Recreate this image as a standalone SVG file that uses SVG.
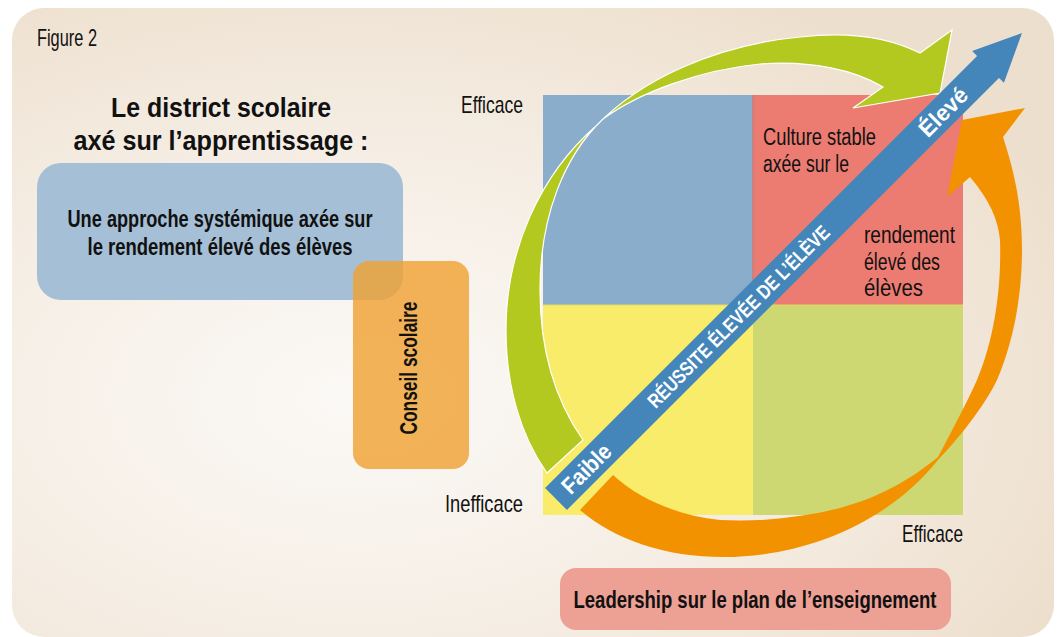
<svg xmlns="http://www.w3.org/2000/svg" width="1058" height="637" viewBox="0 0 1058 637">
  <defs>
    <radialGradient id="bgGrad" cx="0.33" cy="0.62" r="0.75">
      <stop offset="0" stop-color="#fbf9f6"/>
      <stop offset="0.55" stop-color="#f5ede3"/>
      <stop offset="1" stop-color="#eddfcd"/>
    </radialGradient>
    <style>
      .t { font-family: "Liberation Sans Narrow", "Liberation Sans", Arial, sans-serif; fill: #111; }
      .b { font-weight: bold; }
      .w { fill: #ffffff; font-weight: bold; }
    </style>
  </defs>

  <!-- panel -->
  <rect x="0" y="0" width="1058" height="637" fill="#ffffff"/>
  <rect x="12" y="8" width="1042" height="629" rx="32" fill="url(#bgGrad)"/>
  <text class="t" x="37" y="46" font-size="24" textLength="60" lengthAdjust="spacingAndGlyphs" fill="#2a2a2a">Figure 2</text>

  <!-- heading -->
  <g id="heading">
    <text class="t b" x="221" y="117" font-size="27" text-anchor="middle" textLength="220" lengthAdjust="spacingAndGlyphs">Le district scolaire</text>
    <text class="t b" x="221" y="150" font-size="27" text-anchor="middle" textLength="295" lengthAdjust="spacingAndGlyphs">axé sur l’apprentissage :</text>
  </g>

  <!-- left boxes -->
  <g id="approche">
    <rect x="37" y="163" width="366" height="137" rx="24" fill="#a5c0d6"/>
    <text class="t b" x="220" y="227" font-size="24" text-anchor="middle" textLength="305" lengthAdjust="spacingAndGlyphs">Une approche systémique axée sur</text>
    <text class="t b" x="220" y="255" font-size="24" text-anchor="middle" textLength="265" lengthAdjust="spacingAndGlyphs">le rendement élevé des élèves</text>
  </g>
  <g id="conseil">
    <rect x="353" y="261" width="116" height="208" rx="16" fill="#f0a030" fill-opacity="0.8"/>
    <text class="t b" transform="translate(417,368) rotate(-90)" x="0" y="0" font-size="23" text-anchor="middle" textLength="133" lengthAdjust="spacingAndGlyphs">Conseil scolaire</text>
  </g>

  <!-- quadrant grid -->
  <g id="grille">
    <rect x="543" y="95" width="210" height="210" fill="#89adcb"/>
    <rect x="753" y="95" width="210" height="210" fill="#ec7c72"/>
    <rect x="543" y="305" width="210" height="210" fill="#f9ec6b"/>
    <rect x="753" y="305" width="210" height="210" fill="#cdd872"/>
    <line x1="753" y1="95" x2="753" y2="305" stroke="#d96a64" stroke-width="1"/>
    <line x1="543" y1="305" x2="963" y2="305" stroke="#e6dc5a" stroke-width="1"/>
  </g>

  <!-- axis labels -->
  <g id="axes">
    <text class="t" x="523" y="113" font-size="24" text-anchor="end" textLength="62" lengthAdjust="spacingAndGlyphs">Efficace</text>
    <text class="t" x="523" y="512" font-size="24" text-anchor="end" textLength="78" lengthAdjust="spacingAndGlyphs">Inefficace</text>
    <text class="t" x="963" y="542" font-size="24" text-anchor="end" textLength="61" lengthAdjust="spacingAndGlyphs">Efficace</text>
  </g>

  <!-- quadrant text -->
  <g id="culture">
    <text class="t" x="763" y="145" font-size="23" textLength="113" lengthAdjust="spacingAndGlyphs">Culture stable</text>
    <text class="t" x="763" y="172" font-size="23" textLength="86" lengthAdjust="spacingAndGlyphs">axée sur le</text>
    <text class="t" x="864" y="243" font-size="23" textLength="91" lengthAdjust="spacingAndGlyphs">rendement</text>
    <text class="t" x="864" y="270" font-size="23" textLength="76" lengthAdjust="spacingAndGlyphs">élevé des</text>
    <text class="t" x="864" y="296" font-size="23" textLength="59" lengthAdjust="spacingAndGlyphs">élèves</text>
  </g>

  <!-- connectors: the two cycle arrows and the achievement axis -->
  <g id="connecteurs">
    <path id="fleche-verte" fill="#b3c920" stroke="#ffffff" stroke-width="1.2" stroke-linejoin="miter"
      d="M547,473 C520,435 506,385 506,330 C506,250 540,175 596,126 C640,80 715,45 800,37 C850,31 890,38 920,53 L952,30 L940,93 L853,108 L883,87 C855,70 810,60 760,64 C700,70 640,92 603,119 C565,155 540,215 540,290 C540,350 555,400 583,440 Z"/>
    <path id="fleche-orange" fill="#f29200"
      d="M580,510 C615,540 665,557 724,557 C800,557 885,526 938,460 C960,437 985,405 997,380 C1012,345 1022,300 1022,250 C1022,200 1012,165 1003,137 L1025,108 L962,120 L947,197 L970,177 C985,195 998,215 1000,240 C1002,300 990,350 977,380 C968,400 955,425 938,457 C910,480 880,497 840,508 C800,518 760,522 720,520 C680,516 640,500 613,475 Z"/>
    <g id="axe-reussite" transform="translate(556,499) rotate(-45)">
      <polygon points="0,-15.5 611,-15.5 611,-22.5 659,0 611,22.5 611,15.5 0,15.5" fill="#4586ba"/>
      <text class="t w" x="13" y="8" font-size="23" textLength="60" lengthAdjust="spacingAndGlyphs">Faible</text>
      <text class="t w" x="258" y="7" font-size="20" text-anchor="middle" textLength="248" lengthAdjust="spacingAndGlyphs">RÉUSSITE ÉLEVÉE DE L’ÉLÈVE</text>
      <text class="t w" x="518" y="8" font-size="23" textLength="59" lengthAdjust="spacingAndGlyphs">Élevé</text>
    </g>
  </g>

  <!-- bottom box -->
  <g id="leadership">
    <rect x="560" y="568" width="391" height="62" rx="16" fill="#eda094"/>
    <text class="t b" x="755" y="608" font-size="24" text-anchor="middle" textLength="363" lengthAdjust="spacingAndGlyphs">Leadership sur le plan de l’enseignement</text>
  </g>
</svg>
